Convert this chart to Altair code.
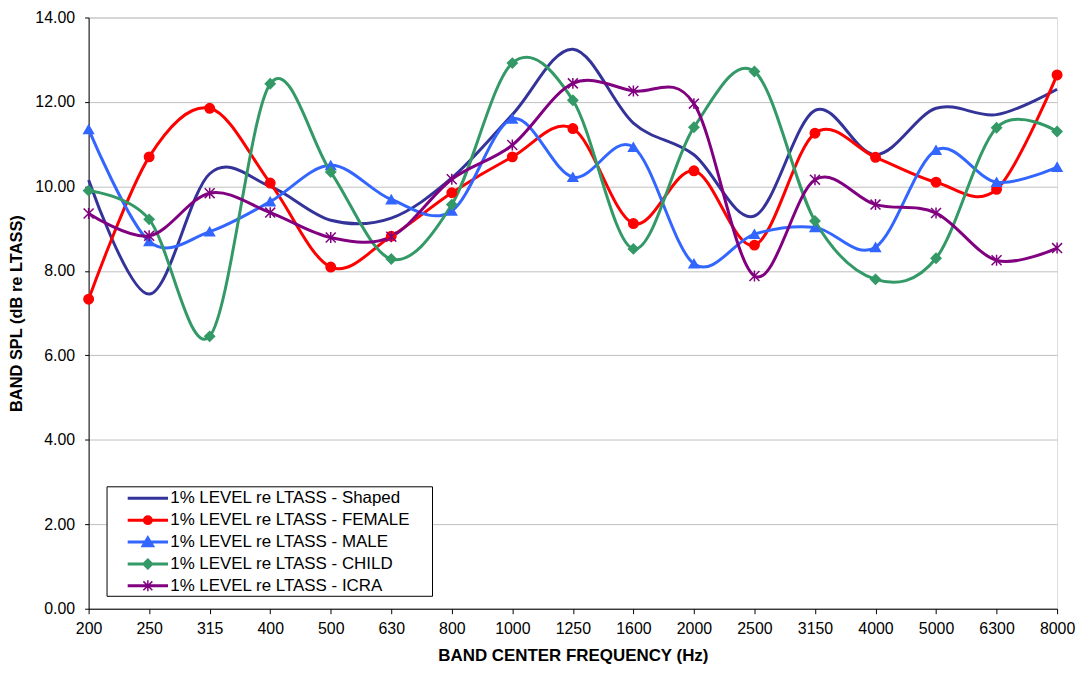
import altair as alt
import pandas as pd

freqs = ["200", "250", "315", "400", "500", "630", "800", "1000", "1250", "1600",
         "2000", "2500", "3150", "4000", "5000", "6300", "8000"]
series_names = ["1% LEVEL re LTASS - Shaped", "1% LEVEL re LTASS - FEMALE",
                "1% LEVEL re LTASS - MALE", "1% LEVEL re LTASS - CHILD",
                "1% LEVEL re LTASS - ICRA"]
shaped = [10.15, 7.45, 10.3, 10.0, 9.2, 9.25, 10.2, 11.7, 13.25, 11.5, 10.75, 9.3, 11.8, 10.75, 11.85, 11.7, 12.3]
female = [7.33, 10.7, 11.85, 10.08, 8.09, 8.82, 9.85, 10.7, 11.37, 9.12, 10.37, 8.61, 11.26, 10.69, 10.1, 9.93, 12.64]
male = [11.35, 8.7, 8.93, 9.64, 10.5, 9.69, 9.42, 11.6, 10.22, 10.93, 8.17, 8.87, 9.03, 8.56, 10.86, 10.1, 10.46]
child = [9.9, 9.22, 6.45, 12.43, 10.34, 8.28, 9.57, 12.92, 12.04, 8.52, 11.4, 12.72, 9.18, 7.8, 8.3, 11.39, 11.3]
icra = [9.36, 8.83, 9.84, 9.38, 8.79, 8.81, 10.17, 10.98, 12.44, 12.26, 11.96, 7.88, 10.16, 9.57, 9.37, 8.25, 8.54]
y_ticks = [0, 2, 4, 6, 8, 10, 12, 14]
colors = ["#333399", "#FF0000", "#3366FF", "#339966", "#800080"]

rows = []
for name, vals in zip(series_names, [shaped, female, male, child, icra]):
    for f, v in zip(freqs, vals):
        rows.append({"freq": f, "value": v, "series": name})
df = pd.DataFrame(rows)

FONT = "Liberation Sans"

marker_series = series_names[1:]
marker_colors = colors[1:]
asterisk = "M-1,-1L1,1M-1,1L1,-1M0,-1.1V1.1"
marker_shapes = ["circle", "triangle-up", "diamond", asterisk]
marker_sizes = [90, 100, 60, 130]

line_seg = "M-1.95,-0.075H1.95V0.075H-1.95Z"
legend_paths = [
    line_seg,
    line_seg + "M0.42,0A0.42,0.42 0 1,1 -0.42,0A0.42,0.42 0 1,1 0.42,0Z",
    line_seg + "M0,-0.55L0.6,0.45L-0.6,0.45Z",
    line_seg + "M0,-0.5L0.5,0L0,0.5L-0.5,0Z",
    line_seg + "M-0.45,-0.45L0.45,0.45M-0.45,0.45L0.45,-0.45M0,-0.55V0.55",
]

x_enc = alt.X(
    "freq:N", sort=freqs,
    scale=alt.Scale(type="point", padding=0),
    axis=alt.Axis(
        title="BAND CENTER FREQUENCY (Hz)", labelAngle=0, labelFont=FONT,
        labelFontSize=16, labelColor="black", labelPadding=7, tickSize=5,
        tickColor="black", domainColor="black", gridColor="#c0c0c0",
        titleFont=FONT, titleFontSize=17, titleFontWeight="bold",
        titleColor="black", titlePadding=11, labelOverlap=False,
    ),
)
y_enc = alt.Y(
    "value:Q",
    scale=alt.Scale(domain=[0, 14], nice=False),
    axis=alt.Axis(
        title="BAND SPL (dB re LTASS)", values=y_ticks, format=".2f",
        labelFont=FONT, labelFontSize=16, labelColor="black", labelPadding=10,
        tickSize=4, tickColor="black", domainColor="black", gridColor="#c0c0c0",
        titleFont=FONT, titleFontSize=16.5, titleFontWeight="bold",
        titleColor="black", titlePadding=10,
    ),
)

base = alt.Chart(df).encode(x=x_enc, y=y_enc)

lines = base.mark_line(interpolate="cardinal", strokeWidth=3).encode(
    color=alt.Color("series:N", scale=alt.Scale(domain=series_names, range=colors), legend=None)
)

points = base.transform_filter(
    alt.datum.series != series_names[0]
).mark_point(filled=True, strokeWidth=1.5, opacity=1).encode(
    color=alt.Color("series:N", scale=alt.Scale(domain=marker_series, range=marker_colors), legend=None),
    stroke=alt.Stroke("series:N", scale=alt.Scale(domain=marker_series, range=marker_colors), legend=None),
    shape=alt.Shape("series:N", scale=alt.Scale(domain=marker_series, range=marker_shapes), legend=None),
    size=alt.Size("series:N", scale=alt.Scale(domain=marker_series, range=marker_sizes), legend=None),
)

leg = alt.Legend(
    title="\u00a0", titleOrient="right", titlePadding=21, titleFontSize=17,
    orient="none", legendX=18, legendY=471, padding=1, rowPadding=3,
    symbolSize=400, symbolStrokeWidth=1.5, symbolOffset=29.5, labelOffset=11.5,
    labelFont=FONT, labelFontSize=17, labelColor="black", fillColor="white",
    strokeColor="black", symbolOpacity=1, labelLimit=0, cornerRadius=0,
)

legend_layer = base.transform_filter("false").mark_point(
    filled=True, strokeWidth=1.5, opacity=1
).encode(
    color=alt.Color("series:N", scale=alt.Scale(domain=series_names, range=colors), legend=leg),
    stroke=alt.Stroke("series:N", scale=alt.Scale(domain=series_names, range=colors), legend=leg),
    shape=alt.Shape("series:N", scale=alt.Scale(domain=series_names, range=legend_paths), legend=leg),
)

chart = alt.layer(lines, points, legend_layer).resolve_scale(
    color="independent", stroke="independent", shape="independent", size="independent"
).properties(
    width=973, height=594,
    autosize=alt.AutoSizeParams(type="none"),
    padding={"left": 81, "top": 8, "right": 20, "bottom": 56},
).configure_view(stroke="#808080", strokeWidth=1).configure(background="white")

chart.save("out.html", embed_options={"renderer": "svg", "actions": False})
